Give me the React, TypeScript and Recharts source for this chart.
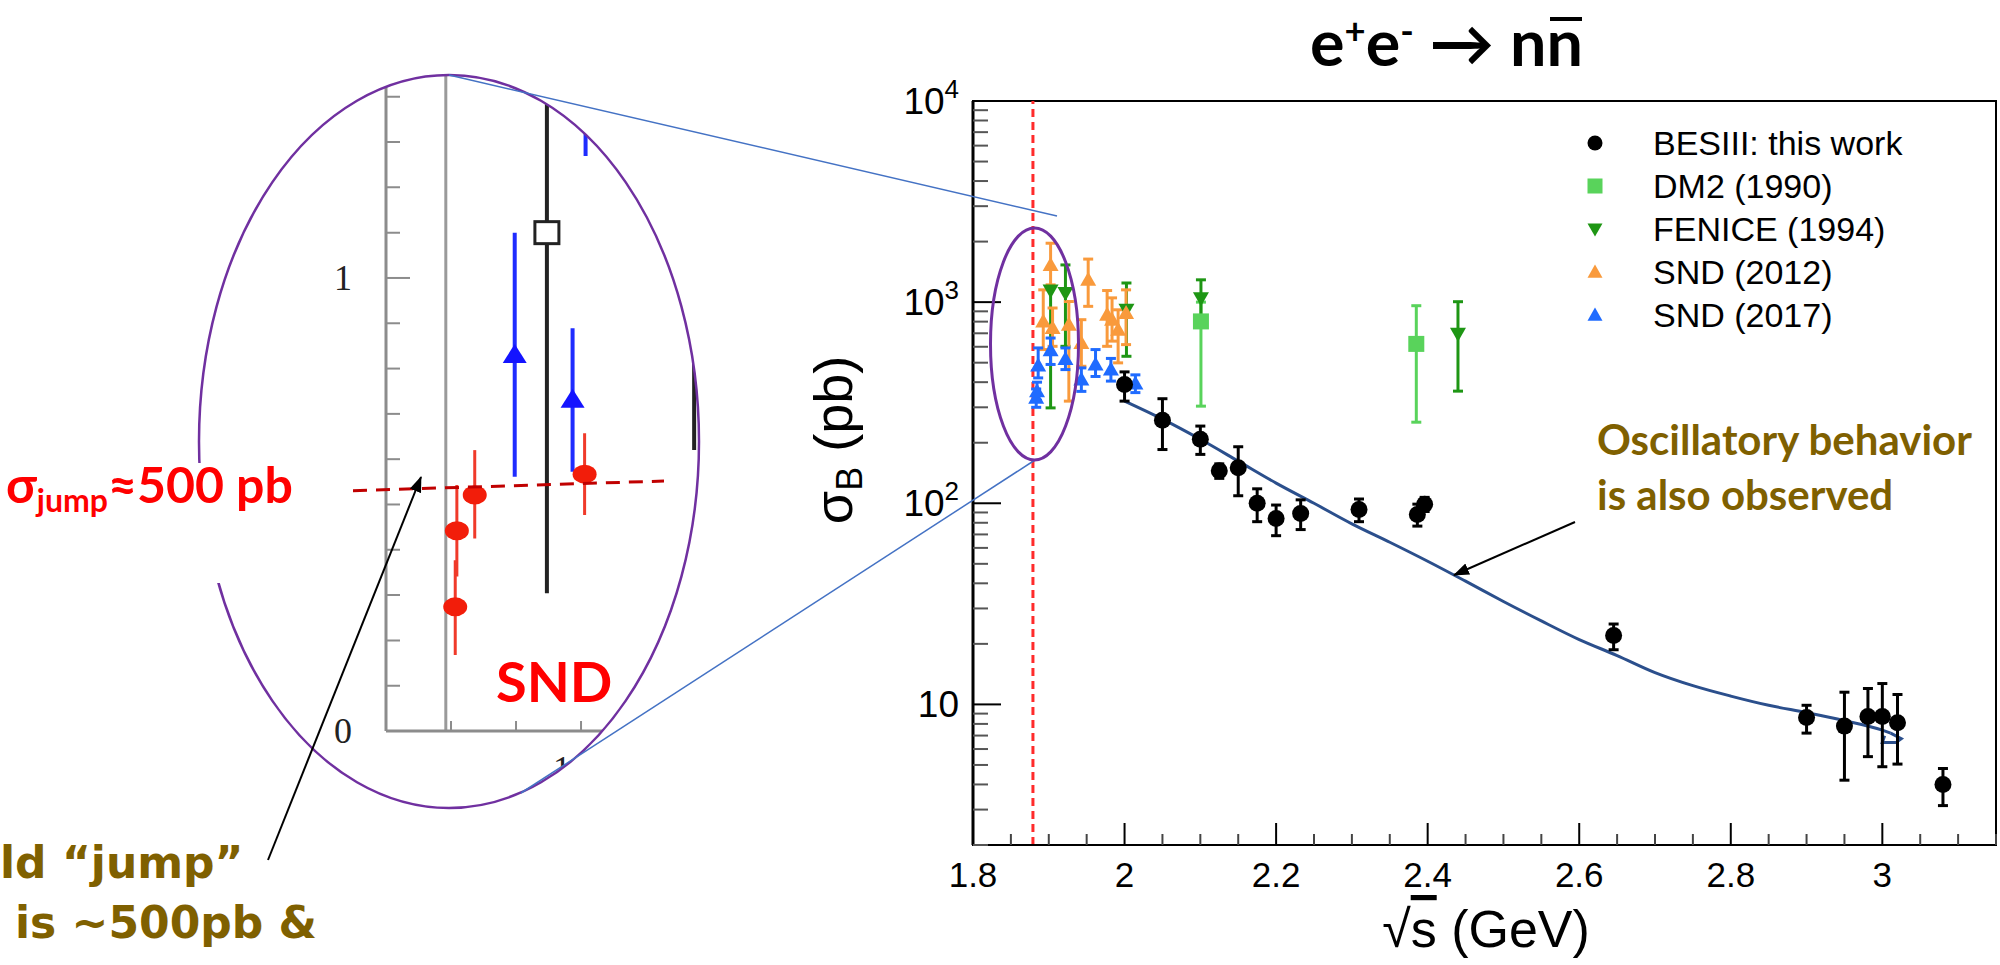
import {
  ComposedChart,
  ScatterChart,
  Scatter,
  Line,
  XAxis,
  YAxis,
  ErrorBar,
  ReferenceLine,
  ReferenceArea,
  Legend,
} from "recharts";

const ROOT_FONT = "'Liberation Sans', Arial, sans-serif";
const SLIDE_FONT = "Lato, 'Open Sans', sans-serif";
const SERIF_FONT = "'Liberation Serif', 'Times New Roman', serif";
const BROWN = "#7f6000";
const PURPLE = "#7030a0";
const LINK_BLUE = "#4472c4";

// ---- e+e- -> n nbar Born cross section, sigma in pb vs sqrt(s) in GeV
const besE = [2.0, 2.05, 2.1, 2.125, 2.15, 2.175, 2.2, 2.2324, 2.3094, 2.3864, 2.396, 2.6454, 2.9, 2.95, 2.981, 3.0, 3.02, 3.08];
const besSigma = [389, 259, 208, 145, 150, 100, 84, 89, 93, 88, 99, 22, 8.6, 7.8, 8.7, 8.7, 8.1, 4.0];
const besLow = [322, 185, 175, 133, 109, 81, 69, 74, 81, 77, 91, 18.7, 7.2, 4.2, 5.5, 4.9, 5.05, 3.14];
const besHigh = [450, 331, 242, 157, 191, 118, 98, 104, 105, 99, 107, 25.1, 9.9, 11.5, 12.0, 12.7, 11.2, 4.8];

const dm2E = [2.1008, 2.385];
const dm2Sigma = [802, 620];
const dm2Low = [304, 253];
const dm2High = [1000, 960];

const feniceE = [1.9024, 1.922, 2.0025, 2.1008, 2.44];
const feniceSigma = [1142, 1109, 916, 1047, 697];
const feniceLow = [298, 603, 538, 820, 361];
const feniceHigh = [1197, 1531, 1245, 1291, 1005];

const snd12E = [1.8927, 1.9024, 1.905, 1.9265, 1.943, 1.952, 1.977, 1.9835, 1.9915, 2.002];
const snd12Sigma = [802, 1531, 744, 773, 627, 1291, 866, 818, 730, 883];
const snd12Low = [581, 1219, 603, 322, 480, 953, 603, 640, 499, 615];
const snd12High = [1151, 1963, 935, 1007, 818, 1637, 1142, 1050, 916, 1151];

const snd17E = [1.8834, 1.8845, 1.886, 1.9024, 1.922, 1.943, 1.9617, 1.982, 2.0143];
const snd17Sigma = [335, 361, 484, 576, 522, 412, 490, 462, 394];
const snd17Low = [300, 325, 420, 490, 462, 360, 427, 405, 355];
const snd17High = [370, 400, 592, 663, 592, 471, 581, 525, 435];

// fitted line shape, plus the little hook where the drawn curve ends
const fitE = [2.0, 2.05, 2.1, 2.15, 2.2, 2.25, 2.3, 2.35, 2.4, 2.45, 2.5, 2.55, 2.6, 2.65, 2.7, 2.75, 2.8, 2.85, 2.9, 2.95, 3.0, 3.011];
const fitSigma = [322, 262, 208, 162, 126, 100, 79, 64, 51.5, 41, 32.5, 26, 21, 17.5, 14.4, 12.4, 11.0, 9.9, 9.1, 8.3, 7.45, 7.2];
const fitHookE = [3.011, 3.025, 3.018, 3.0, 3.003];
const fitHookSigma = [7.2, 6.76, 6.46, 6.46, 6.98];

const nnThreshold = 1.8791;

const xTicks = [1.8, 1.85, 1.9, 1.95, 2, 2.05, 2.1, 2.15, 2.2, 2.25, 2.3, 2.35, 2.4, 2.45, 2.5, 2.55, 2.6, 2.65, 2.7, 2.75, 2.8, 2.85, 2.9, 2.95, 3, 3.05, 3.1, 3.15];
const xMajor = [1.8, 2, 2.2, 2.4, 2.6, 2.8, 3];
const xMajorLabels = ["1.8", "2", "2.2", "2.4", "2.6", "2.8", "3"];
const yTicks = [
  2, 3, 4, 5, 6, 7, 8, 9, 10, 20, 30, 40, 50, 60, 70, 80, 90, 100, 200, 300, 400, 500, 600, 700, 800, 900,
  1000, 2000, 3000, 4000, 5000, 6000, 7000, 8000, 9000, 10000,
];
const yMajor = [10, 100, 1000, 10000];
const yMajorExp = ["", "2", "3", "4"];

// ---- zoomed threshold region (sigma in nb vs E in MeV)
const insetRedE = [1878.13, 1878.18, 1878.73, 1882.11];
const insetRedSigma = [0.274, 0.442, 0.521, 0.567];
const insetRedLow = [0.168, 0.341, 0.425, 0.477];
const insetRedHigh = [0.377, 0.543, 0.62, 0.657];
const insetBlueE = [1879.96, 1881.74, 1882.14];
const insetBlueSigma = [0.83, 0.731, 1.62];
const insetBlueLow = [0.561, 0.572, 1.269];
const insetBlueHigh = [1.1, 0.889, 1.9];
const insetBlackE = [1880.95, 1885.48];
const insetBlackSigma = [1.1, 1.05];
const insetBlackLow = [0.304, 0.62];
const insetBlackHigh = [1.386, 1.4];
const insetThreshold = 1877.84;
const insetYTicks = [0, 0.1, 0.2, 0.3, 0.4, 0.5, 0.6, 0.7, 0.8, 0.9, 1, 1.1, 1.2, 1.3, 1.4];
const insetYLabels = [0, 1];
const insetXTicks = [1878, 1880, 1882];
const insetXLabels = [1882];

const withErrors = (e: number[], s: number[], lo: number[], hi: number[]) =>
  e.map((x, i) => ({ e: x, s: s[i], err: [s[i] - lo[i], hi[i] - s[i]] }));
const asPoints = (e: number[], s: number[]) => e.map((x, i) => ({ e: x, s: s[i] }));

type Kind = "circle" | "square" | "up" | "down";

function glyph(kind: Kind, cx: number, cy: number, color: string, size: number) {
  const h = size / 2;
  if (kind === "circle") return <circle cx={cx} cy={cy} r={h} fill={color} />;
  if (kind === "square") return <rect x={cx - h} y={cy - h} width={size} height={size} fill={color} />;
  if (kind === "up")
    return <polygon points={`${cx},${cy - h} ${cx - h},${cy + h * 0.75} ${cx + h},${cy + h * 0.75}`} fill={color} />;
  return <polygon points={`${cx},${cy + h} ${cx - h},${cy - h * 0.75} ${cx + h},${cy - h * 0.75}`} fill={color} />;
}

const shapeOf = (kind: Kind, color: string, size: number) => (p: any) => glyph(kind, p.cx, p.cy, color, size);

const legendRows: { label: string; kind: Kind; color: string }[] = [
  { label: "BESIII: this work", kind: "circle", color: "#000000" },
  { label: "DM2 (1990)", kind: "square", color: "#59d35b" },
  { label: "FENICE (1994)", kind: "down", color: "#1e9614" },
  { label: "SND (2012)", kind: "up", color: "#f99a3c" },
  { label: "SND (2017)", kind: "up", color: "#1f6bff" },
];

const isMajor = (v: number, list: number[]) => list.findIndex((m) => Math.abs(m - v) < 1e-6);

const XTick = ({ x, y, payload }: any) => {
  const i = isMajor(payload.value, xMajor);
  return (
    <g>
      <line x1={x} y1={y} x2={x} y2={y - (i >= 0 ? 22 : 11)} stroke={i >= 0 ? "#000" : "#444"} strokeWidth={2} />
      {i >= 0 && (
        <text x={x} y={y + 42} textAnchor="middle" fontFamily={ROOT_FONT} fontSize={35} fill="#000">
          {xMajorLabels[i]}
        </text>
      )}
    </g>
  );
};

const YTick = ({ x, y, payload, side }: any) => {
  const i = yMajor.indexOf(payload.value);
  const dir = side === "right" ? -1 : 1;
  return (
    <g>
      <line x1={x} y1={y} x2={x + dir * (i >= 0 ? 28 : 15)} y2={y} stroke={i >= 0 ? "#000" : "#555"} strokeWidth={2} />
      {side === "left" && i >= 0 && (
        <text x={x - 14} y={y + 13} textAnchor="end" fontFamily={ROOT_FONT} fontSize={37} fill="#000">
          10
          {yMajorExp[i] && (
            <tspan dy={-16} fontSize={26}>
              {yMajorExp[i]}
            </tspan>
          )}
        </text>
      )}
    </g>
  );
};

const LegendBox = () => (
  <div style={{ fontFamily: ROOT_FONT, fontSize: 34, color: "#000", lineHeight: 1 }}>
    {legendRows.map((r) => (
      <div key={r.label} style={{ display: "flex", alignItems: "center", height: 43 }}>
        <svg width={30} height={30}>
          {glyph(r.kind, 15, 15, r.color, 15)}
        </svg>
        <span style={{ marginLeft: 43 }}>{r.label}</span>
      </div>
    ))}
  </div>
);

const MainPlot = () => (
  <ComposedChart width={2000} height={965} margin={{ top: 101, right: 4, bottom: 0, left: 0 }}>
    <XAxis
      type="number"
      dataKey="e"
      domain={[1.8, 3.15]}
      allowDataOverflow
      ticks={xTicks}
      interval={0}
      height={120}
      tickLine={false}
      tickSize={0}
      tickMargin={0}
      axisLine={{ stroke: "#000", strokeWidth: 2 }}
      tick={<XTick />}
    />
    <YAxis
      type="number"
      dataKey="s"
      scale="log"
      domain={[2, 10000]}
      allowDataOverflow
      ticks={yTicks}
      interval={0}
      width={973}
      tickLine={false}
      tickSize={0}
      tickMargin={0}
      axisLine={{ stroke: "#000", strokeWidth: 3 }}
      tick={<YTick side="left" />}
    />
    <YAxis
      yAxisId="right"
      orientation="right"
      type="number"
      dataKey="s"
      scale="log"
      domain={[2, 10000]}
      allowDataOverflow
      ticks={yTicks}
      interval={0}
      width={0}
      tickLine={false}
      tickSize={0}
      tickMargin={0}
      axisLine={{ stroke: "#000", strokeWidth: 2 }}
      tick={<YTick side="right" />}
    />
    <ReferenceArea x1={1.8} x2={3.15} y1={2} y2={10000} fill="none" stroke="#000" strokeWidth={2} />
    <ReferenceLine x={nnThreshold} stroke="#ff2b2b" strokeWidth={3} strokeDasharray="8 5" />
    <Line data={asPoints(fitE, fitSigma)} dataKey="s" type="monotone" stroke="#2b4f8c" strokeWidth={3} dot={false} isAnimationActive={false} />
    <Line data={asPoints(fitHookE, fitHookSigma)} dataKey="s" type="linear" stroke="#2b4f8c" strokeWidth={3} dot={false} isAnimationActive={false} />
    <Scatter data={withErrors(dm2E, dm2Sigma, dm2Low, dm2High)} shape={shapeOf("square", "#59d35b", 16)} isAnimationActive={false}>
      <ErrorBar dataKey="err" direction="y" width={5} stroke="#59d35b" strokeWidth={3} />
    </Scatter>
    <Scatter data={withErrors(feniceE, feniceSigma, feniceLow, feniceHigh)} shape={shapeOf("down", "#1e9614", 16)} isAnimationActive={false}>
      <ErrorBar dataKey="err" direction="y" width={5} stroke="#1e9614" strokeWidth={3} />
    </Scatter>
    <Scatter data={withErrors(snd12E, snd12Sigma, snd12Low, snd12High)} shape={shapeOf("up", "#f99a3c", 16)} isAnimationActive={false}>
      <ErrorBar dataKey="err" direction="y" width={5} stroke="#f99a3c" strokeWidth={3} />
    </Scatter>
    <Scatter data={withErrors(snd17E, snd17Sigma, snd17Low, snd17High)} shape={shapeOf("up", "#1f6bff", 16)} isAnimationActive={false}>
      <ErrorBar dataKey="err" direction="y" width={5} stroke="#1f6bff" strokeWidth={3} />
    </Scatter>
    <Scatter data={withErrors(besE, besSigma, besLow, besHigh)} shape={shapeOf("circle", "#000", 17)} isAnimationActive={false}>
      <ErrorBar dataKey="err" direction="y" width={5} stroke="#000" strokeWidth={3} />
    </Scatter>
    <Legend
      layout="vertical"
      align="center"
      verticalAlign="middle"
      content={() => <LegendBox />}
      wrapperStyle={{ left: 1580, top: 121, width: 420, height: 220 }}
    />
  </ComposedChart>
);

const InsetYTick = ({ x, y, payload }: any) => {
  const v = payload.value;
  const labelled = insetYLabels.some((m) => Math.abs(m - v) < 1e-6);
  return (
    <g>
      <line x1={x} y1={y} x2={x + (Math.abs(v - 1) < 1e-6 ? 24 : 14)} y2={y} stroke="#8c8c8c" strokeWidth={2} />
      {labelled && (
        <text x={x - 43} y={y + 12} textAnchor="middle" fontFamily={SERIF_FONT} fontSize={36} fill="#222">
          {v}
        </text>
      )}
    </g>
  );
};

const InsetXTick = ({ x, y, payload }: any) => (
  <g>
    <line x1={x} y1={y} x2={x} y2={y - 10} stroke="#8c8c8c" strokeWidth={2} />
    {insetXLabels.includes(payload.value) && (
      <text x={x + 8} y={y + 50} textAnchor="middle" fontFamily={SERIF_FONT} fontSize={36} fill="#222">
        {payload.value}
      </text>
    )}
  </g>
);

const redDot = (p: any) => <ellipse cx={p.cx} cy={p.cy} rx={12} ry={9.5} fill="#f21d0a" />;
const blueTri = (p: any) => (
  <polygon points={`${p.cx},${p.cy - 11} ${p.cx - 12},${p.cy + 8} ${p.cx + 12},${p.cy + 8}`} fill="#1414ff" />
);
const openSquare = (p: any) => (
  <rect x={p.cx - 12} y={p.cy - 11} width={24} height={22} fill="#fff" stroke="#222" strokeWidth={3} />
);

const InsetPlot = () => (
  <div
    style={{
      position: "absolute",
      left: 0,
      top: 0,
      width: 720,
      height: 965,
      clipPath: "ellipse(250px 366.5px at 449px 441.5px)",
    }}
  >
    <ScatterChart width={720} height={965} margin={{ top: 75, right: 20, bottom: 174, left: 0 }}>
      <XAxis
        type="number"
        dataKey="e"
        domain={[1876, 1885.66]}
        allowDataOverflow
        ticks={insetXTicks}
        interval={0}
        height={60}
        tickLine={false}
        tickSize={0}
        tickMargin={0}
        axisLine={{ stroke: "#8c8c8c", strokeWidth: 3 }}
        tick={<InsetXTick />}
      />
      <YAxis
        type="number"
        dataKey="s"
        domain={[0, 1.448]}
        allowDataOverflow
        ticks={insetYTicks}
        interval={0}
        width={386}
        tickLine={false}
        tickSize={0}
        tickMargin={0}
        axisLine={{ stroke: "#8c8c8c", strokeWidth: 3 }}
        tick={<InsetYTick />}
      />
      <ReferenceLine x={insetThreshold} stroke="#9a9a9a" strokeWidth={3} />
      <Scatter data={withErrors(insetBlackE, insetBlackSigma, insetBlackLow, insetBlackHigh)} shape={openSquare} isAnimationActive={false}>
        <ErrorBar dataKey="err" direction="y" width={0} stroke="#222" strokeWidth={4} />
      </Scatter>
      <Scatter data={withErrors(insetBlueE, insetBlueSigma, insetBlueLow, insetBlueHigh)} shape={blueTri} isAnimationActive={false}>
        <ErrorBar dataKey="err" direction="y" width={0} stroke="#1f2cff" strokeWidth={4} />
      </Scatter>
      <Scatter data={withErrors(insetRedE, insetRedSigma, insetRedLow, insetRedHigh)} shape={redDot} isAnimationActive={false}>
        <ErrorBar dataKey="err" direction="y" width={0} stroke="#f03a2a" strokeWidth={3} />
      </Scatter>
    </ScatterChart>
  </div>
);

const Annotations = () => (
  <svg width={2000} height={965} style={{ position: "absolute", left: 0, top: 0, pointerEvents: "none" }}>
    <defs>
      <marker id="head" markerWidth={16} markerHeight={12} refX={15} refY={6} orient="auto" markerUnits="userSpaceOnUse">
        <path d="M0,0 L16,6 L0,12 z" fill="#000" />
      </marker>
    </defs>

    {/* zoom window and its links to the threshold region */}
    <ellipse cx={449} cy={441.5} rx={250} ry={366.5} fill="none" stroke={PURPLE} strokeWidth={2.5} />
    <line x1={449} y1={75} x2={1057} y2={216} stroke={LINK_BLUE} strokeWidth={1.5} />
    <line x1={521} y1={793} x2={1035} y2={460} stroke={LINK_BLUE} strokeWidth={1.5} />
    <ellipse cx={1034.5} cy={344} rx={44} ry={116} fill="none" stroke={PURPLE} strokeWidth={3} />

    <rect x={0} y={463} width={320} height={120} fill="#fff" />
    <text x={6} y={503} fontFamily={SLIDE_FONT} fontWeight={700} fontSize={50} fill="#ff0000">
      σ
      <tspan fontSize={32} dy={9}>
        jump
      </tspan>
      <tspan dy={-9}>≈500 pb</tspan>
    </text>
    <line x1={353} y1={490.7} x2={664} y2={481} stroke="#c00000" strokeWidth={3} strokeDasharray="14 9" />
    <text x={496} y={702} fontFamily={SLIDE_FONT} fontWeight={700} fontSize={56} fill="#ff0000">
      SND
    </text>
    <line x1={268} y1={860} x2={421} y2={477} stroke="#000" strokeWidth={2} markerEnd="url(#head)" />

    <text fontFamily="'DejaVu Sans', sans-serif" fontWeight={700} fontSize={44} fill={BROWN}>
      <tspan x={0} y={878}>ld “jump”</tspan>
      <tspan x={15} y={938}>is ~500pb &amp;</tspan>
    </text>

    {/* plot title and axis titles */}
    <text
      x={1310}
      y={66}
      fontFamily={SLIDE_FONT}
      fontWeight={700}
      fontSize={64}
      fill="#000"
      textLength={273}
      lengthAdjust="spacingAndGlyphs"
    >
      e
      <tspan dy={-22} fontSize={36}>
        +
      </tspan>
      <tspan dy={22}>e</tspan>
      <tspan dy={-22} fontSize={36}>
        -
      </tspan>
      <tspan dy={22}> → nn</tspan>
    </text>
    <line x1={1550} y1={19} x2={1582} y2={19} stroke="#000" strokeWidth={4} />

    <text transform="translate(852,440) rotate(-90)" textAnchor="middle" fontFamily={ROOT_FONT} fontSize={54} fill="#000">
      σ
      <tspan fontSize={36} dy={10}>
        B
      </tspan>
      <tspan dy={-10}> (pb)</tspan>
    </text>
    <text x={1486} y={947} textAnchor="middle" fontFamily={ROOT_FONT} fontSize={52} fill="#000">
      √<tspan style={{ textDecoration: "overline" }}>s</tspan> (GeV)
    </text>

    <text fontFamily={SLIDE_FONT} fontWeight={700} fontSize={42} fill={BROWN}>
      <tspan x={1597} y={455}>Oscillatory behavior</tspan>
      <tspan x={1597} y={510}>is also observed</tspan>
    </text>
    <line x1={1575} y1={522} x2={1454} y2={575} stroke="#000" strokeWidth={2} markerEnd="url(#head)" />
  </svg>
);

export default function App() {
  return (
    <div
      style={{
        position: "absolute",
        left: 0,
        top: 0,
        width: 2000,
        height: 965,
        background: "#fff",
        overflow: "hidden",
      }}
    >
      <InsetPlot />
      <div style={{ position: "absolute", left: 0, top: 0 }}>
        <MainPlot />
      </div>
      <Annotations />
    </div>
  );
}
